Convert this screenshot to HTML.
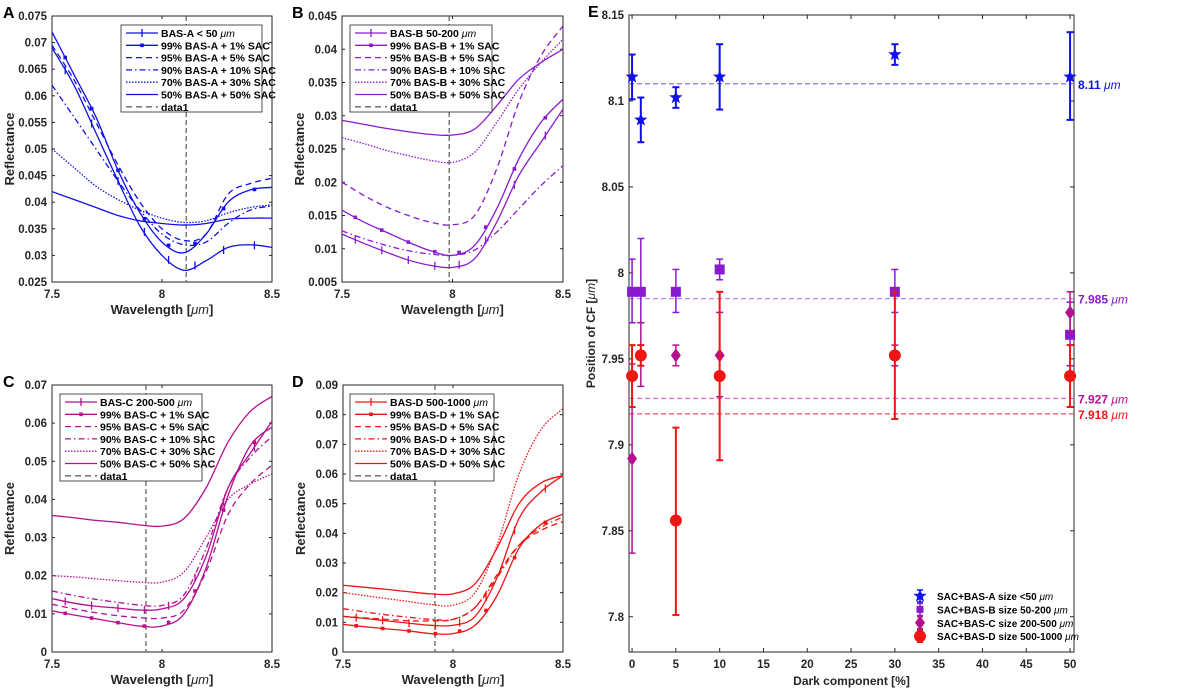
<!DOCTYPE html>
<html><head><meta charset="utf-8">
<style>
html,body{margin:0;padding:0;background:#fff;}
svg{display:block;font-family:"Liberation Sans",Arial,sans-serif;font-weight:bold;}
</style></head>
<body>
<svg id="fig" width="1200" height="690" viewBox="0 0 1200 690" xmlns="http://www.w3.org/2000/svg"></svg>
<script>
// ---------- Data: panels A-D (reflectance sampled at wavelengths) ----------
const wl = [7.5,7.6,7.7,7.8,7.9,8.0,8.1,8.2,8.3,8.4,8.5];
const aBase = [.069,.062,.053,.044,.0355,.030,.0272,.029,.0315,.032,.0315];
const a99 = [.072,.064,.056,.046,.038,.0325,.0305,.034,.040,.0423,.0428];
const a95 = [.0695,.063,.055,.047,.040,.035,.0328,.034,.0415,.0435,.0445];
const a90 = [.062,.056,.050,.044,.0385,.034,.032,.0325,.036,.0385,.0393];
const a70 = [.050,.0465,.043,.0405,.0385,.037,.0362,.0365,.038,.039,.0395];
const a50 = [.042,.0405,.039,.0375,.0365,.036,.0357,.036,.0368,.037,.037];
const bBase = [.0122,.0108,.0095,.0083,.0075,.0072,.0085,.014,.021,.026,.031];
const b99 = [.0158,.014,.0125,.011,.0097,.009,.0105,.016,.0235,.029,.0325];
const b95 = [.020,.018,.0163,.015,.014,.0136,.015,.022,.032,.039,.0435];
const b90 = [.0127,.0115,.0105,.0097,.0092,.009,.0098,.0125,.016,.0195,.0225];
const b70 = [.0267,.0258,.0248,.024,.0233,.023,.0245,.029,.034,.038,.0415];
const b50 = [.0293,.0287,.0281,.0276,.0272,.0271,.028,.0315,.0355,.038,.040];
const cBase = [.014,.0128,.012,.0115,.011,.0113,.014,.025,.043,.052,.0605];
const c99 = [.0108,.0097,.0087,.0077,.0068,.0068,.010,.022,.041,.054,.059];
const c95 = [.0125,.0113,.0103,.0095,.009,.0089,.011,.021,.036,.044,.049];
const c90 = [.016,.0148,.0138,.013,.0123,.0122,.015,.027,.043,.051,.0565];
const c70 = [.020,.0197,.0192,.0187,.0183,.0183,.021,.030,.040,.044,.0467];
const c50 = [.0358,.0352,.0345,.034,.0333,.033,.035,.043,.055,.063,.067];
const dBase = [.012,.0113,.0105,.0097,.009,.009,.012,.025,.045,.054,.0595];
const d99 = [.0093,.0085,.0078,.0071,.0062,.0062,.009,.019,.035,.043,.0465];
const d95 = [.012,.0115,.011,.0105,.0105,.011,.015,.026,.036,.041,.044];
const d90 = [.0146,.0135,.0125,.0117,.011,.011,.015,.025,.036,.042,.0455];
const d70 = [.020,.019,.018,.017,.016,.0158,.020,.036,.060,.075,.082];
const d50 = [.0225,.0218,.0211,.0203,.0196,.0196,.023,.035,.050,.057,.0595];
const cfLines = [8.11, 7.985, 7.927, 7.918];

// ---------- Data: panel E ----------
const darkPct = [0,1,5,10,30,50];
const eA = [8.114,8.089,8.102,8.114,8.127,8.114];
const eAlo = [8.101,8.076,8.096,8.095,8.121,8.089];
const eAhi = [8.127,8.102,8.108,8.133,8.133,8.140];
const eB = [7.989,7.989,7.989,8.002,7.989,7.964];
const eBlo = [7.971,7.971,7.977,7.996,7.977,7.946];
const eBhi = [8.008,8.020,8.002,8.008,8.002,7.983];
const eC = [7.892,7.952,7.952,7.952,7.952,7.977];
const eClo = [7.837,7.934,7.946,7.928,7.946,7.965];
const eChi = [7.947,7.971,7.958,7.977,7.958,7.989];
const eD = [7.940,7.952,7.856,7.940,7.952,7.940];
const eDlo = [7.922,7.946,7.801,7.891,7.915,7.922];
const eDhi = [7.958,7.958,7.910,7.989,7.989,7.958];
const eTicksY = [7.8,7.85,7.9,7.95,8,8.05,8.1,8.15];
const eTicksX = [0,5,10,15,20,25,30,35,40,45,50];

const NS="http://www.w3.org/2000/svg";
const svg=document.getElementById('fig');
function mk(tag,attrs,parent){const e=document.createElementNS(NS,tag);for(const k in attrs)e.setAttribute(k,attrs[k]);(parent||svg).appendChild(e);return e;}
function txt(s,attrs,parent){const e=mk('text',attrs,parent);e.textContent=s;return e;}
function smooth(pts){
  let d='M'+pts[0][0].toFixed(2)+','+pts[0][1].toFixed(2);
  for(let i=0;i<pts.length-1;i++){
    const p0=pts[Math.max(0,i-1)],p1=pts[i],p2=pts[i+1],p3=pts[Math.min(pts.length-1,i+2)];
    const c1=[p1[0]+(p2[0]-p0[0])/6,p1[1]+(p2[1]-p0[1])/6];
    const c2=[p2[0]-(p3[0]-p1[0])/6,p2[1]-(p3[1]-p1[1])/6];
    d+=' C'+c1[0].toFixed(2)+','+c1[1].toFixed(2)+' '+c2[0].toFixed(2)+','+c2[1].toFixed(2)+' '+p2[0].toFixed(2)+','+p2[1].toFixed(2);
  }
  return d;
}
function interp(xs,ys,x){for(let i=0;i<xs.length-1;i++){if(x>=xs[i]&&x<=xs[i+1]){const t=(x-xs[i])/(xs[i+1]-xs[i]);return ys[i]+t*(ys[i+1]-ys[i]);}}return ys[ys.length-1];}

const dashes={solid:'',dash:'6,4',dashdot:'6,3,1.5,3',dot:'1.5,1.5'};

function panel(o){
  const g=mk('g',{});
  
  
  const {L,R,T,B,ymin,ymax}=o;
  const sx=v=>L+(v-7.5)/(1.0)*(R-L);
  const sy=v=>B-(v-ymin)/(ymax-ymin)*(B-T);
  mk('rect',{x:L,y:T,width:R-L,height:B-T,fill:'#fff',stroke:'#262626','stroke-width':1},g);
  [7.5,8,8.5].forEach(v=>{
    const x=sx(v);
    mk('line',{x1:x,y1:B,x2:x,y2:B-3,stroke:'#262626'},g);mk('line',{x1:x,y1:T,x2:x,y2:T+3,stroke:'#262626'},g);
    const t=txt(String(v),{x:x,y:B+16,'text-anchor':'middle','font-size':11.5,fill:'#262626'},g);
    
  });
  o.yt.forEach(v=>{
    const y=sy(v);
    mk('line',{x1:L,y1:y,x2:L+3,y2:y,stroke:'#262626'},g);mk('line',{x1:R,y1:y,x2:R-3,y2:y,stroke:'#262626'},g);
    const t=txt(o.fmt(v),{x:L-5,y:y+4,'text-anchor':'end','font-size':11.5,fill:'#262626'},g);
    
  });
  const xl=txt('',{x:(L+R)/2,y:B+32,'text-anchor':'middle','font-size':13,fill:'#262626'},g);
  xl.innerHTML='Wavelength [<tspan font-style="italic" font-weight="normal">μm</tspan>]';
  
  const yl=txt('Reflectance',{x:0,y:0,'text-anchor':'middle','font-size':13,fill:'#262626',transform:`translate(${L-38},${(T+B)/2}) rotate(-90)`},g);
  
  const pl=txt(o.letter,{x:o.lx,y:T+2,'font-size':16,fill:'#000'},g);
  
  const cx=sx(o.cf);
  const vl=mk('line',{x1:cx,y1:T,x2:cx,y2:B,stroke:'#666','stroke-dasharray':'5,3','stroke-width':1.3},g);
  
  o.series.forEach(s=>{
    const pts=wl.map((w,i)=>[sx(w),sy(s.y[i])]);
    const p=mk('path',{d:smooth(pts),fill:'none',stroke:o.color,'stroke-width':1.3,'stroke-dasharray':dashes[s.style]},g);
    
    if(s.mark){
      [7.56,7.68,7.80,7.92,8.03,8.15,8.28,8.42].forEach(w=>{
        const x=sx(w),y=sy(interp(wl,s.y,w));
        if(s.mark==='cross')mk('line',{x1:x,y1:y-4,x2:x,y2:y+4,stroke:o.color,'stroke-width':1.3},g);
        else mk('rect',{x:x-1.8,y:y-1.8,width:3.6,height:3.6,fill:o.color},g);
      });
    }
  });
  const lg=mk('g',{},g);
  
  mk('rect',{x:o.legX,y:o.legY,width:o.legW,height:87,fill:'#fff',stroke:'#262626','stroke-width':0.8},lg);
  o.labels.forEach((lab,i)=>{
    const y=o.legY+8+i*12.3;
    const isData=i===6;
    const col=isData?'#666':o.color;
    const st=isData?'dash':(o.series[i].style);
    mk('line',{x1:o.legX+5,y1:y,x2:o.legX+37,y2:y,stroke:col,'stroke-width':1.3,'stroke-dasharray':dashes[st]},lg);
    if(!isData&&o.series[i].mark==='cross')mk('line',{x1:o.legX+21,y1:y-4,x2:o.legX+21,y2:y+4,stroke:col,'stroke-width':1.3},lg);
    if(!isData&&o.series[i].mark==='dot')mk('rect',{x:o.legX+19.2,y:y-1.8,width:3.6,height:3.6,fill:col},lg);
    const t=txt('',{x:o.legX+40,y:y+4,'font-size':10.5,fill:'#000'},lg);
    t.innerHTML=lab;
    
  });
}
const mu='<tspan font-style="italic" font-weight="normal">μm</tspan>';
function labs(n,head){return [head,`99% BAS-${n} + 1% SAC`,`95% BAS-${n} + 5% SAC`,`90% BAS-${n} + 10% SAC`,`70% BAS-${n} + 30% SAC`,`50% BAS-${n} + 50% SAC`,'data1'];}
function ser(b,s99,s95,s90,s70,s50){return [{key:'base',y:b,style:'solid',mark:'cross'},{key:'99',y:s99,style:'solid',mark:'dot'},{key:'95',y:s95,style:'dash'},{key:'90',y:s90,style:'dashdot'},{key:'70',y:s70,style:'dot'},{key:'50',y:s50,style:'solid'}];}
const f3=v=>String(+v.toFixed(3)), f2=v=>String(+v.toFixed(2));
panel({letter:'A',lx:3,L:52,R:272,T:16,B:282,ymin:.025,ymax:.075,yt:[.025,.03,.035,.04,.045,.05,.055,.06,.065,.07,.075],fmt:f3,color:'#1010e8',cf:cfLines[0],
  series:ser(aBase,a99,a95,a90,a70,a50),labels:labs('A','BAS-A &lt; 50 '+mu),legX:121,legY:25,legW:141});
panel({letter:'B',lx:292,L:342,R:563,T:16,B:282,ymin:.005,ymax:.045,yt:[.005,.01,.015,.02,.025,.03,.035,.04,.045],fmt:f3,color:'#8a1ad0',cf:cfLines[1],
  series:ser(bBase,b99,b95,b90,b70,b50),labels:labs('B','BAS-B 50-200 '+mu),legX:350,legY:25,legW:142});
panel({letter:'C',lx:3,L:52,R:272,T:385,B:652,ymin:0,ymax:.07,yt:[0,.01,.02,.03,.04,.05,.06,.07],fmt:f2,color:'#b5108f',cf:cfLines[2],
  series:ser(cBase,c99,c95,c90,c70,c50),labels:labs('C','BAS-C 200-500 '+mu),legX:60,legY:394,legW:142});
panel({letter:'D',lx:292,L:343,R:563,T:385,B:652,ymin:0,ymax:.09,yt:[0,.01,.02,.03,.04,.05,.06,.07,.08,.09],fmt:f2,color:'#ee1515',cf:cfLines[3],
  series:ser(dBase,d99,d95,d90,d70,d50),labels:labs('D','BAS-D 500-1000 '+mu),legX:350,legY:394,legW:144});

// ---------- Panel E ----------
(function(){
  const g=mk('g',{});
  
  const L=629,R=1074,T=15,B=652,xmin=-0.35,xmax=50.45,ymin=7.7795,ymax=8.15;
  const sx=v=>L+(v-xmin)/(xmax-xmin)*(R-L);
  const sy=v=>B-(v-ymin)/(ymax-ymin)*(B-T);
  mk('rect',{x:L,y:T,width:R-L,height:B-T,fill:'#fff',stroke:'#262626','stroke-width':1},g);
  eTicksX.forEach(v=>{const x=sx(v);mk('line',{x1:x,y1:B,x2:x,y2:B-4,stroke:'#262626'},g);mk('line',{x1:x,y1:T,x2:x,y2:T+4,stroke:'#262626'},g);
    const t=txt(String(v),{x:x,y:B+16,'text-anchor':'middle','font-size':11.5,fill:'#262626'},g);});
  eTicksY.forEach(v=>{const y=sy(v);mk('line',{x1:L,y1:y,x2:L+4,y2:y,stroke:'#262626'},g);mk('line',{x1:R,y1:y,x2:R-4,y2:y,stroke:'#262626'},g);
    const t=txt(String(v),{x:L-5,y:y+4,'text-anchor':'end','font-size':11.5,fill:'#262626'},g);});
  const xl=txt('Dark component [%]',{x:(L+R)/2,y:B+33,'text-anchor':'middle','font-size':12,fill:'#262626'},g);
  
  const yl=txt('',{x:0,y:0,'text-anchor':'middle','font-size':12,fill:'#262626',transform:`translate(${L-34},${(T+B)/2}) rotate(-90)`},g);
  yl.innerHTML='Position of CF ['+mu+']';
  
  const pl=txt('E',{x:588,y:17,'font-size':16,fill:'#000'},g);
  const lineCols=['#7a7af0','#b57ae6','#e66ad0','#f05050'];
  const labCols=['#1010e8','#8a1ad0','#b5108f','#ee1515'];
  const labTxt=['8.11','7.985','7.927','7.918'];
  cfLines.forEach((v,i)=>{
    const y=sy(v);
    const l=mk('line',{x1:L,y1:y,x2:R,y2:y,stroke:lineCols[i],'stroke-width':1.2,'stroke-dasharray':'5,3'},g);
    
    const t=txt('',{x:R+4,y:y+5,'font-size':12,fill:labCols[i]},g);
    t.innerHTML=labTxt[i]+' '+mu;
    
  });
  function star(x,y,r,col,p){const pts=[];for(let k=0;k<10;k++){const a=-Math.PI/2+k*Math.PI/5;const rr=k%2?r*0.42:r;pts.push((x+rr*Math.cos(a)).toFixed(2)+','+(y+rr*Math.sin(a)).toFixed(2));}return mk('polygon',{points:pts.join(' '),fill:col},p);}
  function marker(type,x,y,col,p){
    if(type==='star')return star(x,y,7,col,p);
    if(type==='square')return mk('rect',{x:x-5,y:y-5,width:10,height:10,fill:col},p);
    if(type==='diamond')return mk('polygon',{points:`${x},${y-7} ${x+5},${y} ${x},${y+7} ${x-5},${y}`,fill:col},p);
    return mk('circle',{cx:x,cy:y,r:6,fill:col},p);
  }
  const groups=[{n:'a',v:eA,lo:eAlo,hi:eAhi,m:'star',c:'#1010e8',sw:2},{n:'b',v:eB,lo:eBlo,hi:eBhi,m:'square',c:'#8a1ad0',sw:1.5},{n:'c',v:eC,lo:eClo,hi:eChi,m:'diamond',c:'#b5108f',sw:1.5},{n:'d',v:eD,lo:eDlo,hi:eDhi,m:'circle',c:'#ee1515',sw:2}];
  groups.forEach(gr=>{
    darkPct.forEach((p,i)=>{
      const x=sx(p),y1=sy(gr.lo[i]),y2=sy(gr.hi[i]);
      const e=mk('g',{},g);
      
      
      mk('line',{x1:x,y1:y1,x2:x,y2:y2,stroke:gr.c,'stroke-width':gr.sw},e);
      mk('line',{x1:x-3.5,y1:y1,x2:x+3.5,y2:y1,stroke:gr.c,'stroke-width':gr.sw},e);
      mk('line',{x1:x-3.5,y1:y2,x2:x+3.5,y2:y2,stroke:gr.c,'stroke-width':gr.sw},e);
      marker(gr.m,x,sy(gr.v[i]),gr.c,e);
    });
  });
  const leg=mk('g',{},g);
  
  const legLab=['SAC+BAS-A size &lt;50 '+mu,'SAC+BAS-B size 50-200 '+mu,'SAC+BAS-C size 200-500 '+mu,'SAC+BAS-D size 500-1000 '+mu];
  groups.forEach((gr,i)=>{
    const y=596+i*13.4,x=920;
    mk('line',{x1:x,y1:y-6,x2:x,y2:y+6,stroke:gr.c,'stroke-width':1.5},leg);
    mk('line',{x1:x-3,y1:y-6,x2:x+3,y2:y-6,stroke:gr.c,'stroke-width':1.5},leg);
    mk('line',{x1:x-3,y1:y+6,x2:x+3,y2:y+6,stroke:gr.c,'stroke-width':1.5},leg);
    const m=marker(gr.m,x,y,gr.c,leg);
    if(gr.m==='square'){m.setAttribute('x',x-3.5);m.setAttribute('y',y-3.5);m.setAttribute('width',7);m.setAttribute('height',7);}
    const t=txt('',{x:937,y:y+4,'font-size':10,fill:'#000'},leg);
    t.innerHTML=legLab[i];
    
  });
})();
</script>
</body></html>
